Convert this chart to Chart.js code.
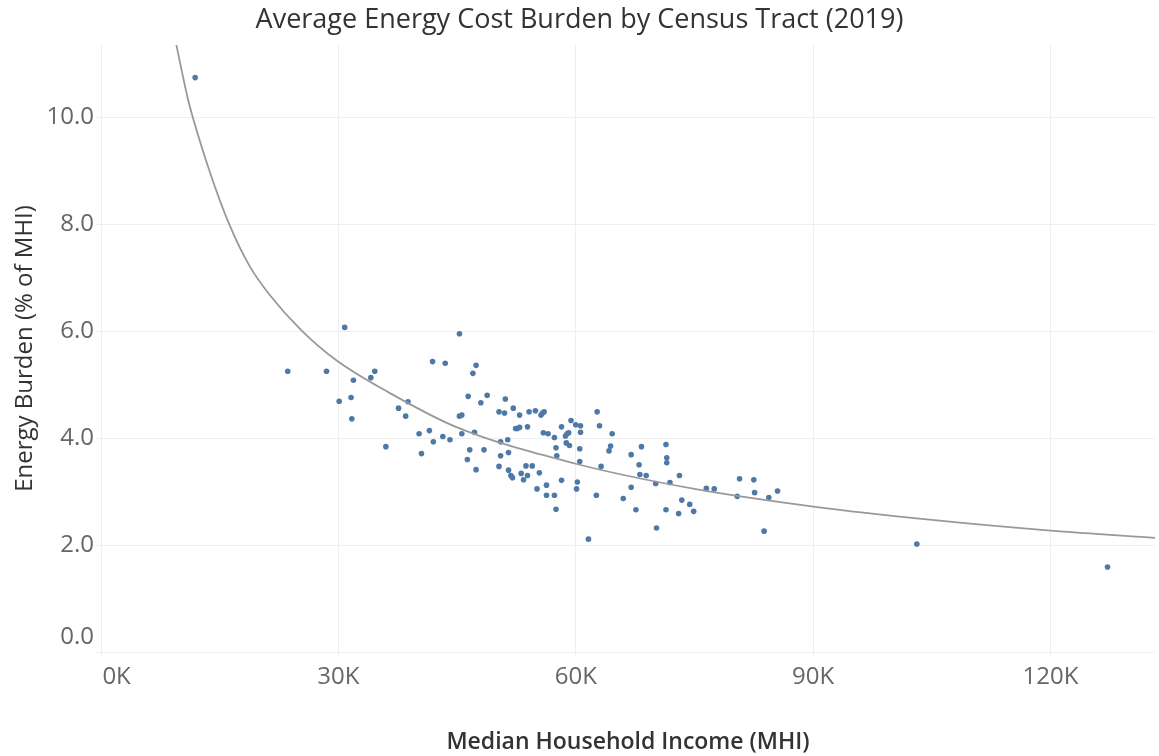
<!DOCTYPE html>
<html>
<head>
<meta charset="utf-8">
<script src="https://cdn.jsdelivr.net/npm/chart.js@4"></script>
<style>
  body { margin: 0; background: #fff; }
  #wrap { width: 1159px; height: 756px; }
</style>
</head>
<body>
<div id="wrap"><canvas id="scatter-chart"></canvas></div>
<script>
// median household income per tract, in thousands
const incomeK = [11.9, 23.6, 28.5, 30.8, 31.9, 30.1, 31.6, 31.7, 34.1, 34.6,
  36.0, 37.6, 38.8, 38.5, 40.2, 40.5, 41.5, 42.0, 43.2, 44.1,
  41.9, 43.5, 45.3, 45.6, 46.4, 45.3, 45.6, 46.6, 46.3, 47.4,
  47.0, 47.4, 48.0, 47.2, 48.4, 48.8, 50.5, 50.3, 51.0, 51.1,
  52.1, 52.9, 51.4, 50.5, 51.5, 50.3, 51.5, 51.8, 52.0, 52.4,
  52.6, 52.9, 53.9, 54.1, 54.9, 55.6, 55.8, 56.0, 53.7, 54.5,
  53.1, 53.9, 53.4, 55.4, 55.1, 55.9, 56.5, 56.3, 56.3, 57.3,
  57.5, 57.3, 57.5, 57.6, 58.2, 58.2, 58.7, 58.9, 59.1, 58.8,
  59.2, 59.4, 60.0, 60.6, 60.6, 60.5, 60.5, 60.2, 60.1, 61.6,
  62.7, 63.0, 63.2, 62.6, 64.6, 64.2, 64.4, 67.0, 68.0, 68.3,
  68.1, 68.9, 67.0, 66.0, 67.6, 70.2, 70.1, 71.4, 71.5, 71.5,
  71.9, 71.4, 73.1, 73.4, 74.4, 73.0, 74.9, 76.5, 77.5, 80.7,
  82.5, 80.4, 82.6, 84.4, 85.5, 83.8, 103.1, 127.2];

// energy burden, % of MHI
const burden = [10.74, 5.25, 5.25, 6.07, 5.08, 4.69, 4.76, 4.36, 5.13, 5.25,
  3.84, 4.56, 4.68, 4.41, 4.08, 3.71, 4.14, 3.93, 4.03, 3.97,
  5.43, 5.40, 5.95, 4.08, 4.78, 4.41, 4.43, 3.78, 3.60, 3.41,
  5.21, 5.36, 4.66, 4.11, 3.78, 4.80, 3.93, 4.49, 4.47, 4.73,
  4.56, 4.43, 3.97, 3.67, 3.73, 3.47, 3.40, 3.30, 3.26, 4.18,
  4.18, 4.20, 4.21, 4.49, 4.51, 4.43, 4.47, 4.49, 3.48, 3.48,
  3.34, 3.30, 3.22, 3.35, 3.05, 4.10, 4.08, 3.12, 2.93, 2.93,
  2.67, 4.01, 3.82, 3.67, 4.21, 3.21, 4.04, 4.08, 4.10, 3.91,
  3.86, 4.33, 4.25, 4.23, 4.11, 3.80, 3.56, 3.18, 3.05, 2.11,
  4.49, 4.23, 3.47, 2.93, 4.08, 3.76, 3.85, 3.69, 3.50, 3.84,
  3.32, 3.30, 3.08, 2.87, 2.66, 2.32, 3.15, 3.88, 3.63, 3.54,
  3.17, 2.66, 3.30, 2.84, 2.76, 2.59, 2.63, 3.06, 3.05, 3.24,
  3.22, 2.91, 2.98, 2.89, 3.01, 2.26, 2.02, 1.59];

// trend curve
const trendIncomeK = [9.2, 9.6, 11.0, 11.6, 13.7, 16.2, 18.8, 21.2, 25.3, 29.7,
  36.4, 45, 60, 75, 90, 105, 120, 133.5];
const trendBurden = [11.6, 11.3, 10.33, 10.0, 9.0, 8.0, 7.21, 6.7, 6.02, 5.46,
  4.85, 4.2, 3.52, 3.05, 2.72, 2.47, 2.27, 2.13];

const xTicks = [0, 30, 60, 90, 120];
const yTicks = [0, 2, 4, 6, 8, 10];

const gridColor = '#eeeeee';
const fontFamily = '"Open Sans", "DejaVu Sans", sans-serif';

new Chart(document.getElementById('scatter-chart'), {
  type: 'scatter',
  data: {
    datasets: [
      {
        label: 'Trend',
        type: 'line',
        data: trendIncomeK.map((x, i) => ({x: x, y: trendBurden[i]})),
        borderColor: '#999999',
        borderWidth: 1.8,
        pointRadius: 0,
        fill: false,
        cubicInterpolationMode: 'monotone',
        order: 0
      },
      {
        label: 'Census tract',
        data: incomeK.map((x, i) => ({x: x, y: burden[i]})),
        backgroundColor: '#4e79a7',
        borderWidth: 0,
        pointRadius: 2.8,
        order: 1
      }
    ]
  },
  options: {
    responsive: true,
    maintainAspectRatio: false,
    animation: false,
    events: [],
    layout: { padding: 0 },
    plugins: {
      legend: { display: false },
      tooltip: { enabled: false },
      title: {
        display: true,
        text: 'Average Energy Cost Burden by Census Tract (2019)',
        color: '#333333',
        font: { family: fontFamily, size: 27, weight: 'normal' },
        padding: { top: 4, bottom: 8.6 }
      }
    },
    scales: {
      x: {
        type: 'linear',
        min: 0,
        max: 133.2,
        afterFit: (scale) => { scale.height = 104; },
        afterBuildTicks: (scale) => { scale.ticks = xTicks.map(v => ({value: v})); },
        grid: { color: gridColor, tickColor: gridColor, tickLength: 5 },
        border: { display: false },
        ticks: {
          color: '#666666',
          padding: 6,
          font: { family: fontFamily, size: 24 },
          // first label sits just right of the axis, as in the original
          callback: (v) => v === 0 ? '     0K' : v + 'K'
        },
        title: {
          display: true,
          text: 'Median Household Income (MHI)',
          color: '#333333',
          font: { family: fontFamily, size: 23, weight: '600' },
          padding: { top: 0, bottom: 0 }
        }
      },
      y: {
        type: 'linear',
        min: 0,
        max: 11.35,
        afterFit: (scale) => { scale.width = 101; },
        afterBuildTicks: (scale) => { scale.ticks = yTicks.map(v => ({value: v})); },
        grid: { color: gridColor, tickColor: gridColor, tickLength: 5 },
        border: { display: false },
        ticks: {
          color: '#666666',
          padding: 2,
          font: { family: fontFamily, size: 24 },
          // bottom label is lifted above the zero line
          callback: (v) => v === 0 ? ['0.0', ''] : v.toFixed(1)
        },
        title: {
          display: true,
          text: 'Energy Burden (% of MHI)',
          color: '#333333',
          font: { family: fontFamily, size: 24, weight: 'normal' },
          padding: { top: 11, bottom: 0 }
        }
      }
    }
  }
});
</script>
</body>
</html>
